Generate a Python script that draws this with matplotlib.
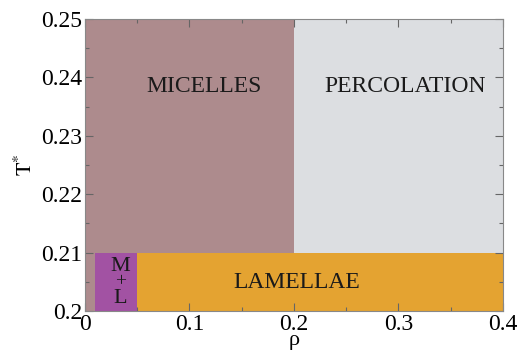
import matplotlib
matplotlib.use("Agg")
import matplotlib.pyplot as plt
from matplotlib.patches import Rectangle

plt.rcParams['font.family'] = ['Liberation Serif', 'DejaVu Serif']
plt.rcParams['mathtext.fontset'] = 'stix'

# Phase regions: (name, rho_min, rho_max, T_min, T_max, colour)
phases = ["MICELLES", "PERCOLATION", "M+L", "LAMELLAE", "MICELLES_LOW"]
rho_min = [0.0, 0.2, 0.01, 0.05, 0.0]
rho_max = [0.2, 0.4, 0.05, 0.4, 0.01]
t_min = [0.21, 0.21, 0.2, 0.2, 0.2]
t_max = [0.25, 0.25, 0.21, 0.21, 0.21]
colors = ["#ad8b8d", "#dcdee1", "#a252a3", "#e4a331", "#ad8b8d"]

# Labels placed inside regions
label_text = ["MICELLES", "PERCOLATION", "LAMELLAE"]
label_rho = [0.114, 0.306, 0.203]
label_t = [0.2384, 0.2384, 0.2048]

x_ticks = [0, 0.1, 0.2, 0.3, 0.4]
x_ticklabels = ["0", "0.1", "0.2", "0.3", "0.4"]
y_ticks = [0.2, 0.21, 0.22, 0.23, 0.24, 0.25]
y_ticklabels = ["0.2", "0.21", "0.22", "0.23", "0.24", "0.25"]

fig = plt.figure(figsize=(5.18, 3.52), dpi=100)
ax = fig.add_axes([0.164, 0.1165, 0.807, 0.8295])

for r0, r1, a, b, c in zip(rho_min, rho_max, t_min, t_max, colors):
    ax.add_patch(Rectangle((r0, a), r1 - r0, b - a, facecolor=c, edgecolor='none', zorder=1))

for s, x, y in zip(label_text, label_rho, label_t):
    ax.text(x, y, s, ha='center', va='center', fontsize=17, color='#1a1a1a', zorder=3)

# M + L stacked label
ax.text(0.034, 0.2076, "M", ha='center', va='center', fontsize=16, color='#1a1a1a', zorder=3)
ax.text(0.034, 0.2050, "+", ha='center', va='center', fontsize=14, color='#1a1a1a', zorder=3)
ax.text(0.034, 0.2021, "L", ha='center', va='center', fontsize=16, color='#1a1a1a', zorder=3)

ax.set_xlim(0, 0.4)
ax.set_ylim(0.2, 0.25)
ax.set_xticks(x_ticks)
ax.set_xticklabels(x_ticklabels)
ax.set_yticks(y_ticks)
ax.set_yticklabels(y_ticklabels)
ax.set_xticks([0.05, 0.15, 0.25, 0.35], minor=True)
ax.set_yticks([0.205, 0.215, 0.225, 0.235, 0.245], minor=True)

ax.tick_params(which='both', direction='in', top=True, right=True, color='#666666',
               labelsize=17, pad=2)
ax.tick_params(which='major', length=6, width=0.8)
ax.tick_params(which='minor', length=3, width=0.8)
for sp in ax.spines.values():
    sp.set_color('#888888')
    sp.set_linewidth(0.8)

ax.set_xlabel(r"ρ", fontsize=16, labelpad=-3)
ax.set_ylabel(r"$\mathrm{T}^{*}$", fontsize=16, labelpad=3)

fig.savefig("out.png", dpi=100)
